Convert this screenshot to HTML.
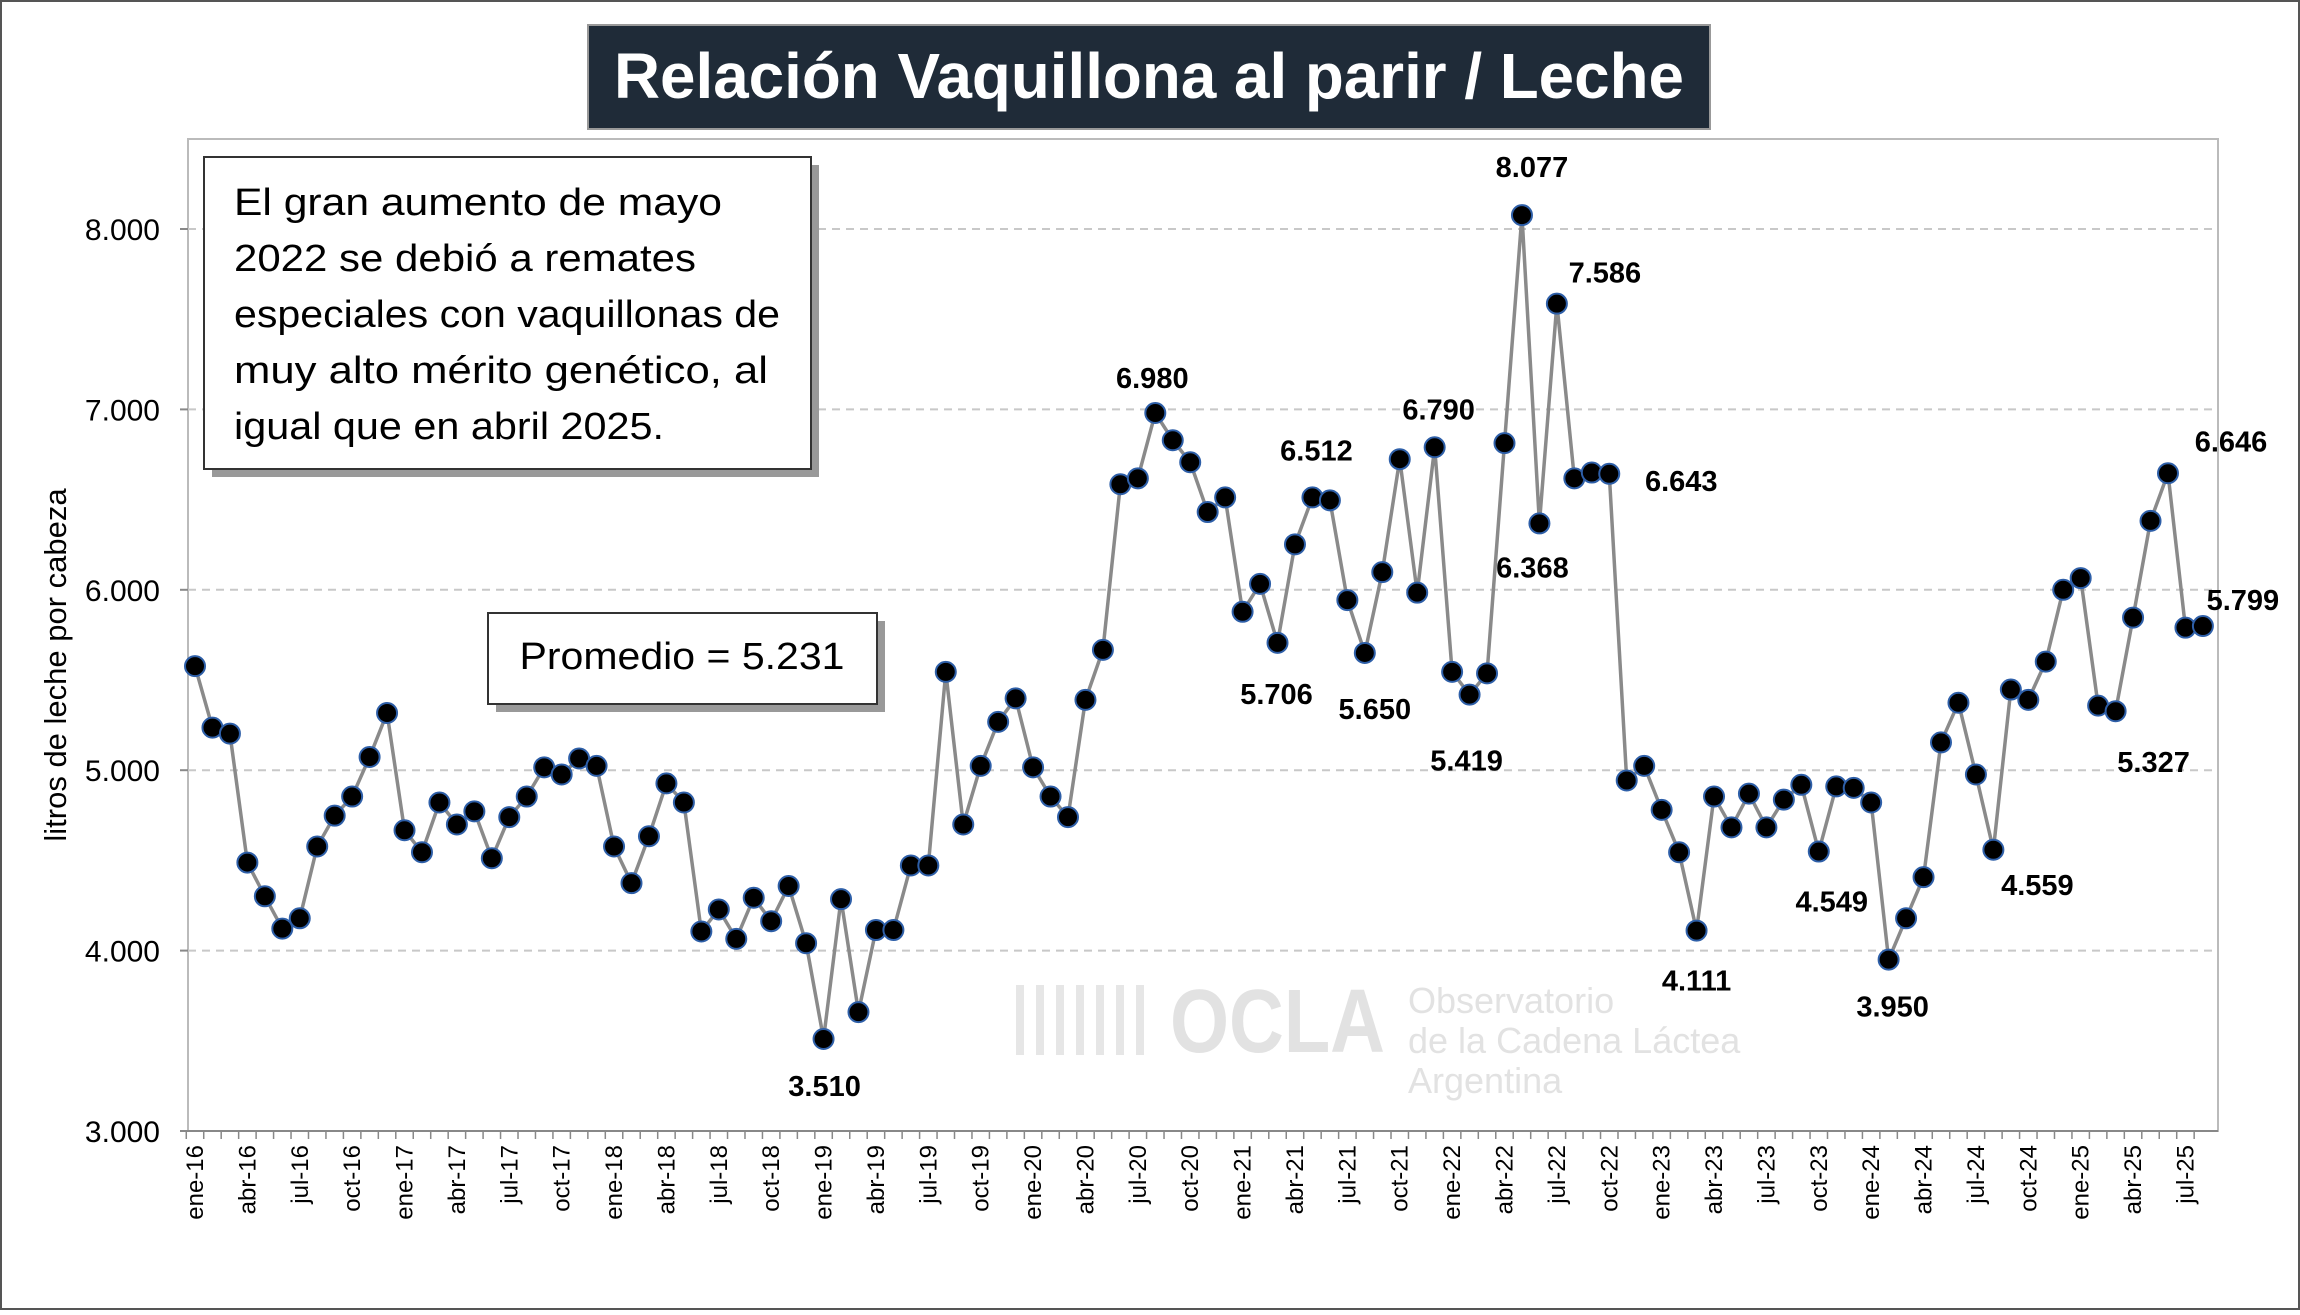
<!DOCTYPE html>
<html><head><meta charset="utf-8"><style>
html,body{margin:0;padding:0;background:#fff;}
body{width:2300px;height:1310px;overflow:hidden;font-family:"Liberation Sans",sans-serif;}
</style></head><body>
<svg id="chart" width="2300" height="1310" xmlns="http://www.w3.org/2000/svg">
<rect x="1" y="1" width="2298" height="1308" fill="#fff" stroke="#555" stroke-width="2"/>
<rect x="188" y="139" width="2030" height="992" fill="#fff" stroke="#bbb" stroke-width="2"/>
<g id="grid"></g>
<g id="watermark" fill="#e2e2e2">
<text x="1170" y="1052" font-size="90" font-weight="bold" textLength="215" lengthAdjust="spacingAndGlyphs">OCLA</text>
<text x="1408" y="1013" font-size="36">Observatorio</text>
<text x="1408" y="1053" font-size="36">de la Cadena Láctea</text>
<text x="1408" y="1093" font-size="36">Argentina</text>
<path d="M1020 985 v70 M1040 985 v70 M1060 985 v70 M1080 985 v70 M1100 985 v70 M1120 985 v70 M1140 985 v70" stroke="#e6e6e6" stroke-width="8" fill="none"/>
</g>
<g id="yaxis"></g>
<g id="xaxis"></g>
<g id="series"></g>
<g id="labels"></g>
<text transform="translate(66,665) rotate(-90)" text-anchor="middle" font-size="31" fill="#000">litros de leche por cabeza</text>
<rect x="588" y="25" width="1122" height="104" fill="#1f2b38" stroke="#999" stroke-width="2"/>
<text x="1149" y="98" text-anchor="middle" font-size="64" font-weight="bold" fill="#fff" textLength="1070" lengthAdjust="spacingAndGlyphs">Relación Vaquillona al parir / Leche</text>
<rect x="212" y="165" width="607" height="312" fill="#999"/>
<rect x="204" y="157" width="607" height="312" fill="#fff" stroke="#333" stroke-width="2"/>
<g font-size="38" fill="#000">
<text x="234" y="215" textLength="488" lengthAdjust="spacingAndGlyphs">El gran  aumento de mayo</text>
<text x="234" y="271" textLength="462" lengthAdjust="spacingAndGlyphs">2022  se debió a remates</text>
<text x="234" y="327" textLength="546" lengthAdjust="spacingAndGlyphs">especiales con vaquillonas de</text>
<text x="234" y="383" textLength="534" lengthAdjust="spacingAndGlyphs">muy alto mérito genético, al</text>
<text x="234" y="439" textLength="430" lengthAdjust="spacingAndGlyphs">igual que en abril 2025.</text>
</g>
<rect x="496" y="621" width="389" height="91" fill="#999"/>
<rect x="488" y="613" width="389" height="91" fill="#fff" stroke="#333" stroke-width="2"/>
<text x="682" y="669" text-anchor="middle" font-size="38" fill="#000" textLength="325" lengthAdjust="spacingAndGlyphs">Promedio = 5.231</text>
</svg>
<script>
const months = ["ene","feb","mar","abr","may","jun","jul","ago","sep","oct","nov","dic"];
const startYear = 16;
const values = [5577,5236,5203,4488,4301,4122,4179,4577,4748,4854,5073,5317,
4667,4545,4821,4699,4772,4512,4740,4854,5016,4976,5065,5024,
4577,4374,4634,4927,4821,4106,4228,4065,4293,4163,4358,4041,
3510,4285,3659,4114,4114,4472,4472,5545,4699,5024,5268,5398,
5016,4854,4740,5390,5667,6585,6618,6980,6829,6707,6431,6512,
5878,6033,5706,6252,6512,6496,5943,5650,6098,6724,5984,6790,
5545,5419,5537,6813,8077,6368,7586,6618,6650,6643,4943,5024,
4780,4545,4111,4854,4683,4870,4683,4837,4919,4549,4910,4902,
4821,3950,4179,4407,5154,5374,4976,4559,5447,5390,5602,6000,
6065,5358,5327,5846,6382,6646,5790,5799];
const yTicks = [3000,4000,5000,6000,7000,8000];
const yTickLabels = ["3.000","4.000","5.000","6.000","7.000","8.000"];
const labelIdx = [76,78,55,64,71,81,77,62,67,73,36,86,93,97,103,110,113,115];
const labelText = ["8.077","7.586","6.980","6.512","6.790","6.643","6.368","5.706","5.650","5.419","3.510","4.111","4.549","3.950","4.559","5.327","6.646","5.799"];
const labelDx = [10,48,-3,4,4,72,-7,-1,10,-3,1,0,13,4,44,38,63,40];
const labelDy = [-48,-31,-35,-47,-38,7,44,51,56,66,47,50,50,47,35,51,-32,-26];

const NS="http://www.w3.org/2000/svg";
const X0=195, DX=17.46, Y0=1131, PY=180.4;
function xS(i){return X0+i*DX;}
function yS(v){return Y0-(v-3000)/1000*PY;}
function mk(tag,attrs,parent){const e=document.createElementNS(NS,tag);for(const k in attrs)e.setAttribute(k,attrs[k]);parent.appendChild(e);return e;}

const grid=document.getElementById('grid'), ya=document.getElementById('yaxis'), xa=document.getElementById('xaxis');
yTicks.forEach((t,i)=>{
  if(t>3000){const g=mk('line',{x1:188,x2:2218,y1:yS(t),y2:yS(t),stroke:'#c8c8c8','stroke-width':2,'stroke-dasharray':'8,6'},grid);
  
  }
  const tx=mk('text',{x:160,y:yS(t)+11,'text-anchor':'end','font-size':30,fill:'#000'},ya);
  tx.textContent=yTickLabels[i];
  
  
  const tk=mk('line',{x1:180,x2:188,y1:yS(t),y2:yS(t),stroke:'#888','stroke-width':2},ya);
  
  
});
const ax=mk('line',{x1:188,x2:2218,y1:1131,y2:1131,stroke:'#888','stroke-width':2},xa);


for(let i=0;i<values.length;i++){
  const tk=mk('line',{x1:xS(i)-DX/2,x2:xS(i)-DX/2,y1:1131,y2:1139,stroke:'#888','stroke-width':1.5},xa);
  
  
  if(i%3===0){
    const lab=months[i%12]+'-'+(startYear+Math.floor(i/12));
    const x=xS(i), y=1145;
    const t=mk('text',{transform:`translate(${x+8},${y}) rotate(-90)`,'text-anchor':'end','font-size':24,fill:'#000'},xa);
    t.textContent=lab;
    
    
  }
}
const s=document.getElementById('series');
const pts=values.map((v,i)=>xS(i)+','+yS(v)).join(' ');
const pl=mk('polyline',{points:pts,fill:'none',stroke:'#8a8a8a','stroke-width':3.5},s);


values.forEach((v,i)=>{
  const c=mk('circle',{cx:xS(i),cy:yS(v),r:10,fill:'#000',stroke:'#2e5fa8','stroke-width':2},s);
  
  
});
const lg=document.getElementById('labels');
labelIdx.forEach((idx,k)=>{
  const t=mk('text',{x:xS(idx)+labelDx[k],y:yS(values[idx])+labelDy[k]+10,'text-anchor':'middle','font-size':29,'font-weight':'bold',fill:'#000'},lg);
  t.textContent=labelText[k];
  
  
});
</script>
</body></html>
